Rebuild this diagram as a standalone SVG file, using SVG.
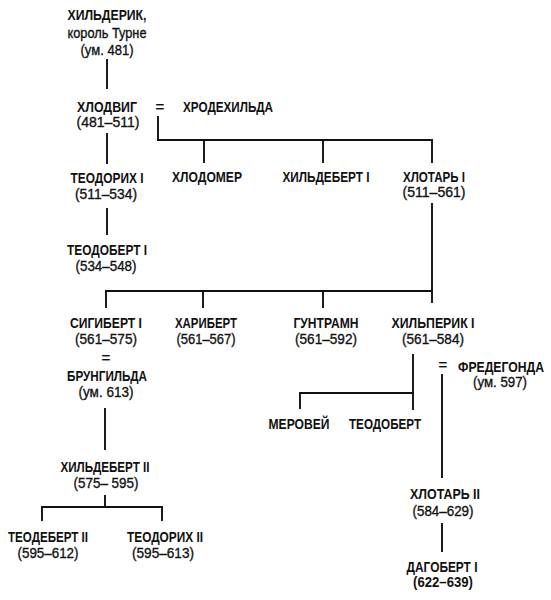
<svg xmlns="http://www.w3.org/2000/svg" width="551" height="600" viewBox="0 0 551 600">
<style>
text{font-family:"Liberation Sans","DejaVu Sans",sans-serif;font-size:15px;fill:#111;text-anchor:middle}
.n{font-weight:bold}
.d{font-weight:normal;stroke:#111;stroke-width:0.35}
.c line{stroke:#111;stroke-width:1.9;fill:none}
</style>
<rect width="551" height="600" fill="#fff"/>
<g class="c" id="connectors">
<line x1="107" y1="59" x2="107" y2="89"/>
<line x1="107" y1="133" x2="107" y2="164"/>
<line x1="158" y1="116" x2="158" y2="141"/>
<line x1="157" y1="140" x2="433" y2="140"/>
<line x1="204" y1="140" x2="204" y2="163"/>
<line x1="323" y1="140" x2="323" y2="163"/>
<line x1="432" y1="139" x2="432" y2="163"/>
<line x1="107" y1="208" x2="107" y2="235"/>
<line x1="432" y1="203" x2="432" y2="303"/>
<line x1="105" y1="291" x2="433" y2="291"/>
<line x1="106" y1="290" x2="106" y2="308"/>
<line x1="203" y1="291" x2="203" y2="308"/>
<line x1="323" y1="291" x2="323" y2="308"/>
<line x1="413" y1="354" x2="413" y2="410"/>
<line x1="300" y1="393" x2="414" y2="393"/>
<line x1="300" y1="392" x2="300" y2="409"/>
<line x1="442" y1="374" x2="442" y2="478"/>
<line x1="105" y1="408" x2="105" y2="450"/>
<line x1="105" y1="495" x2="105" y2="507"/>
<line x1="42" y1="507" x2="163" y2="507"/>
<line x1="42" y1="506" x2="42" y2="521"/>
<line x1="162" y1="506" x2="162" y2="521"/>
<line x1="442" y1="523" x2="442" y2="552"/>
</g>
<g id="childeric">
<text class="n" x="107" y="20" textLength="79" lengthAdjust="spacingAndGlyphs">ХИЛЬДЕРИК,</text>
<text class="d" x="107" y="38" textLength="79" lengthAdjust="spacingAndGlyphs">король Турне</text>
<text class="d" x="107" y="55" textLength="53" lengthAdjust="spacingAndGlyphs">(ум. 481)</text>
</g>
<g id="clovis">
<text class="n" x="107" y="112" textLength="60" lengthAdjust="spacingAndGlyphs">ХЛОДВИГ</text>
<text class="d" x="108" y="127" textLength="63" lengthAdjust="spacingAndGlyphs">(481–511)</text>
</g>
<g id="clovis-eq"><text class="d" x="160" y="112">=</text></g>
<g id="chrodechilde">
<text class="n" x="228" y="112" textLength="90" lengthAdjust="spacingAndGlyphs">ХРОДЕХИЛЬДА</text>
</g>
<g id="theuderic1">
<text class="n" x="107" y="183" textLength="73" lengthAdjust="spacingAndGlyphs">ТЕОДОРИХ I</text>
<text class="d" x="106" y="199" textLength="62" lengthAdjust="spacingAndGlyphs">(511–534)</text>
</g>
<g id="chlodomer">
<text class="n" x="207" y="182" textLength="70" lengthAdjust="spacingAndGlyphs">ХЛОДОМЕР</text>
</g>
<g id="childebert1">
<text class="n" x="326" y="182" textLength="87" lengthAdjust="spacingAndGlyphs">ХИЛЬДЕБЕРТ I</text>
</g>
<g id="chlothar1">
<text class="n" x="434" y="182" textLength="62" lengthAdjust="spacingAndGlyphs">ХЛОТАРЬ I</text>
<text class="d" x="434" y="197" textLength="63" lengthAdjust="spacingAndGlyphs">(511–561)</text>
</g>
<g id="theudebert1">
<text class="n" x="107" y="255" textLength="80" lengthAdjust="spacingAndGlyphs">ТЕОДОБЕРТ I</text>
<text class="d" x="106" y="271" textLength="61" lengthAdjust="spacingAndGlyphs">(534–548)</text>
</g>
<g id="sigebert1">
<text class="n" x="106" y="328" textLength="72" lengthAdjust="spacingAndGlyphs">СИГИБЕРТ I</text>
<text class="d" x="106" y="344" textLength="62" lengthAdjust="spacingAndGlyphs">(561–575)</text>
<text class="d" x="106" y="363">=</text>
</g>
<g id="brunhilda">
<text class="n" x="107" y="381" textLength="80" lengthAdjust="spacingAndGlyphs">БРУНГИЛЬДА</text>
<text class="d" x="106" y="397" textLength="55" lengthAdjust="spacingAndGlyphs">(ум. 613)</text>
</g>
<g id="charibert">
<text class="n" x="206" y="328" textLength="62" lengthAdjust="spacingAndGlyphs">ХАРИБЕРТ</text>
<text class="d" x="206" y="344" textLength="59" lengthAdjust="spacingAndGlyphs">(561–567)</text>
</g>
<g id="guntram">
<text class="n" x="326" y="328" textLength="65" lengthAdjust="spacingAndGlyphs">ГУНТРАМН</text>
<text class="d" x="326" y="344" textLength="62" lengthAdjust="spacingAndGlyphs">(561–592)</text>
</g>
<g id="chilperic1">
<text class="n" x="433" y="328" textLength="83" lengthAdjust="spacingAndGlyphs">ХИЛЬПЕРИК I</text>
<text class="d" x="433" y="344" textLength="62" lengthAdjust="spacingAndGlyphs">(561–584)</text>
</g>
<g id="fredegund-eq"><text class="d" x="443" y="370">=</text></g>
<g id="fredegund">
<text class="n" x="501" y="372" textLength="86" lengthAdjust="spacingAndGlyphs">ФРЕДЕГОНДА</text>
<text class="d" x="500" y="387" textLength="54" lengthAdjust="spacingAndGlyphs">(ум. 597)</text>
</g>
<g id="merovech">
<text class="n" x="299" y="429" textLength="61" lengthAdjust="spacingAndGlyphs">МЕРОВЕЙ</text>
</g>
<g id="theudebert">
<text class="n" x="385" y="429" textLength="72" lengthAdjust="spacingAndGlyphs">ТЕОДОБЕРТ</text>
</g>
<g id="childebert2">
<text class="n" x="105" y="472" textLength="89" lengthAdjust="spacingAndGlyphs">ХИЛЬДЕБЕРТ II</text>
<text class="d" x="106" y="488" textLength="65" lengthAdjust="spacingAndGlyphs">(575– 595)</text>
</g>
<g id="theudebert2">
<text class="n" x="48" y="542" textLength="80" lengthAdjust="spacingAndGlyphs">ТЕОДЕБЕРТ II</text>
<text class="d" x="48" y="558" textLength="61" lengthAdjust="spacingAndGlyphs">(595–612)</text>
</g>
<g id="theuderic2">
<text class="n" x="165" y="542" textLength="76" lengthAdjust="spacingAndGlyphs">ТЕОДОРИХ II</text>
<text class="d" x="163" y="558" textLength="62" lengthAdjust="spacingAndGlyphs">(595–613)</text>
</g>
<g id="chlothar2">
<text class="n" x="445" y="499" textLength="70" lengthAdjust="spacingAndGlyphs">ХЛОТАРЬ II</text>
<text class="d" x="443" y="516" textLength="61" lengthAdjust="spacingAndGlyphs">(584–629)</text>
</g>
<g id="dagobert1">
<text class="n" x="442" y="572" textLength="71" lengthAdjust="spacingAndGlyphs">ДАГОБЕРТ I</text>
<text class="n" x="443" y="587" textLength="60" lengthAdjust="spacingAndGlyphs">(622–639)</text>
</g>
</svg>
